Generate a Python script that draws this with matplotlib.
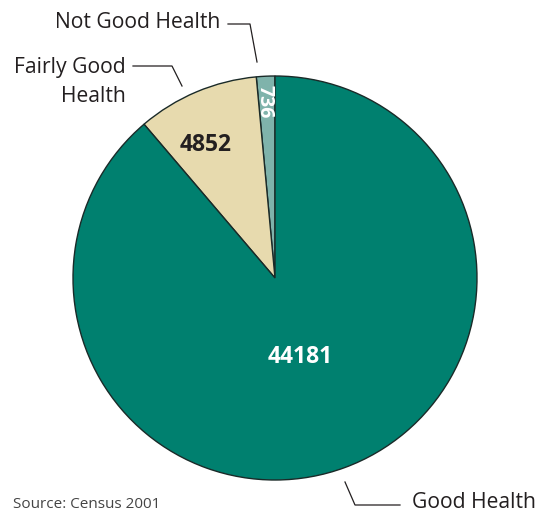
import matplotlib
matplotlib.use("Agg")
import matplotlib.pyplot as plt

categories = ["Not Good Health", "Fairly Good Health", "Good Health"]
values = [736, 4852, 44181]
colors = ["#7fb3ab", "#e7daae", "#00806f"]

W, H = 539, 516
fig = plt.figure(figsize=(W / 100, H / 100), dpi=100)
ax = fig.add_axes([0, 0, 1, 1])

def Y(y):
    return H - y

cx, cy, R = 275, Y(278), 202
ax.pie(values, colors=colors, startangle=90, counterclock=True,
       center=(cx, cy), radius=R, frame=True,
       wedgeprops=dict(edgecolor="#1a2a28", linewidth=1.0))
ax.set_xlim(0, W)
ax.set_ylim(0, H)
ax.set_aspect("equal")
ax.axis("off")

fam = ["Open Sans", "DejaVu Sans"]
# value labels
ax.text(265, Y(102), str(values[0]), rotation=-90, ha="center", va="center",
        fontsize=14, fontweight="bold", color="white", family=fam)
ax.text(206, Y(145), str(values[1]), ha="center", va="center",
        fontsize=16.5, fontweight="bold", color="#231f20", family=fam)
ax.text(300, Y(357), str(values[2]), ha="center", va="center",
        fontsize=16.5, fontweight="bold", color="white", family=fam)

# category labels with leader lines
lc = "#231f20"
ax.text(220, Y(22), categories[0], ha="right", va="center", fontsize=15.2,
        color=lc, family=fam)
ax.plot([228, 250, 257], [Y(24), Y(24), Y(62)], color=lc, lw=0.9)

ax.text(126, Y(82), "Fairly Good\nHealth", ha="right", va="center",
        fontsize=15.2, color=lc, family=fam, linespacing=1.45, multialignment="right")
ax.plot([133, 172, 182], [Y(66), Y(66), Y(86)], color=lc, lw=0.9)

ax.text(412, Y(502), categories[2], ha="left", va="center", fontsize=15.2,
        color=lc, family=fam)
ax.plot([345, 355, 400], [Y(482), Y(505), Y(505)], color=lc, lw=0.9)

ax.text(13, Y(505), "Source: Census 2001", ha="left", va="center", fontsize=11,
        color="#444444", family=fam)

fig.savefig("out.png", dpi=100)
